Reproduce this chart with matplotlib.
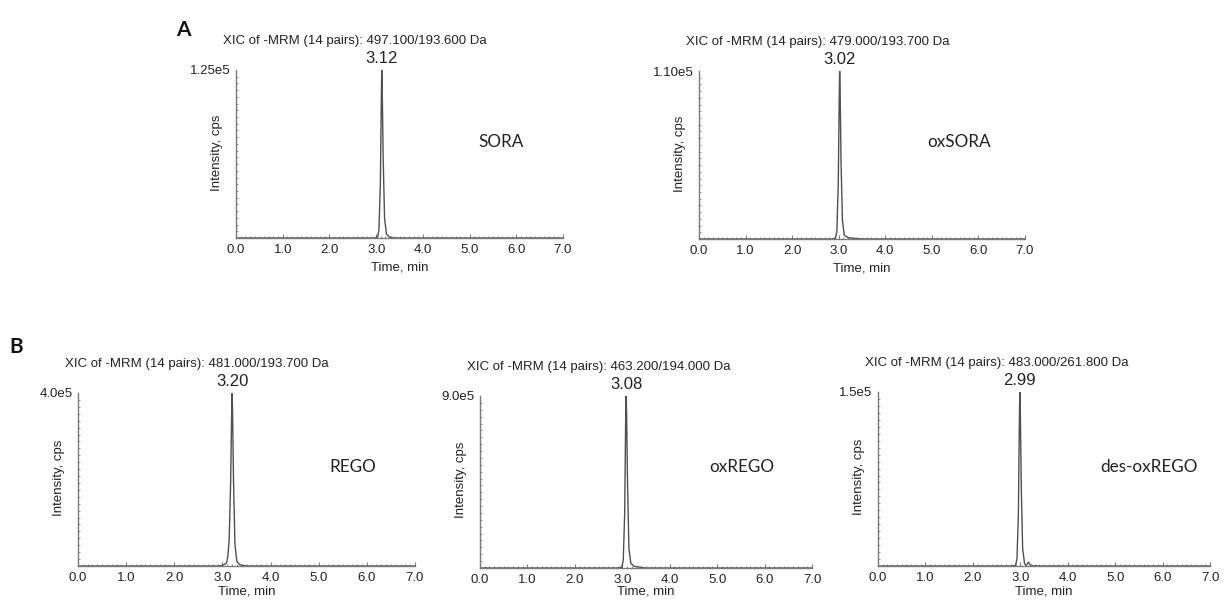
import matplotlib
matplotlib.use("Agg")
import matplotlib.pyplot as plt
from matplotlib.ticker import MultipleLocator, FixedLocator

plt.rcParams["font.family"] = ["Liberation Sans", "DejaVu Sans"]

# ---- chromatogram data (time in min, intensity in cps) ----
sora_t = [0.0, 2.95, 3.03, 3.06, 3.09, 3.11, 3.12, 3.13, 3.15, 3.18, 3.22, 3.28, 3.40, 7.0]
sora_i = [0, 0, 500, 6000, 40000, 100000, 125000, 112000, 60000, 15000, 3000, 800, 0, 0]

oxsora_t = [0.0, 2.85, 2.93, 2.96, 2.99, 3.01, 3.02, 3.03, 3.05, 3.08, 3.12, 3.20, 3.35, 3.50, 7.0]
oxsora_i = [0, 0, 400, 5000, 35000, 90000, 110000, 98000, 50000, 12000, 2500, 900, 400, 0, 0]

rego_t = [0.0, 2.90, 3.00, 3.08, 3.11, 3.14, 3.17, 3.19, 3.20, 3.21, 3.23, 3.26, 3.30, 3.36, 3.50, 7.0]
rego_i = [0, 0, 1500, 6000, 20000, 60000, 190000, 340000, 400000, 360000, 200000, 50000, 10000, 3000, 0, 0]

oxrego_t = [0.0, 2.90, 2.99, 3.02, 3.05, 3.07, 3.08, 3.09, 3.11, 3.14, 3.18, 3.25, 3.40, 3.50, 7.0]
oxrego_i = [0, 0, 4000, 40000, 280000, 750000, 900000, 820000, 450000, 100000, 25000, 9000, 3000, 0, 0]

desox_t = [0.0, 2.82, 2.90, 2.93, 2.96, 2.98, 2.99, 3.00, 3.02, 3.05, 3.09, 3.13, 3.17, 3.20, 3.24, 3.35, 7.0]
desox_i = [0, 0, 500, 6000, 45000, 125000, 150000, 135000, 70000, 15000, 2000, 500, 3500, 1500, 300, 0, 0]

titles = [
    "XIC of -MRM (14 pairs): 497.100/193.600 Da",
    "XIC of -MRM (14 pairs): 479.000/193.700 Da",
    "XIC of -MRM (14 pairs): 481.000/193.700 Da",
    "XIC of -MRM (14 pairs): 463.200/194.000 Da",
    "XIC of -MRM (14 pairs): 483.000/261.800 Da",
]
compounds = ["SORA", "oxSORA", "REGO", "oxREGO", "des-oxREGO"]
peak_times = [3.12, 3.02, 3.20, 3.08, 2.99]
y_max = [1.25e5, 1.10e5, 4.0e5, 9.0e5, 1.5e5]
y_max_labels = ["1.25e5", "1.10e5", "4.0e5", "9.0e5", "1.5e5"]
x_tick_labels = ["0.0", "1.0", "2.0", "3.0", "4.0", "5.0", "6.0", "7.0"]

traces = [(sora_t, sora_i), (oxsora_t, oxsora_i), (rego_t, rego_i),
          (oxrego_t, oxrego_i), (desox_t, desox_i)]

# ---- layout in pixels: (left, top, right, bottom) of each plot area ----
W, H = 1224, 603
boxes = [
    (236, 70, 563, 238),
    (699, 71, 1025, 239),
    (78, 393, 415, 566),
    (480, 396, 812, 568),
    (878, 392, 1210, 566),
]
xlabel_gap = [29, 29, 26, 24, 26]
name_pos = [(0.74, 0.57), (0.70, 0.58), (0.745, 0.57), (0.69, 0.59), (0.67, 0.57)]

fig = plt.figure(figsize=(W / 100, H / 100), dpi=100)
fig.patch.set_facecolor("white")

axis_grey = "#7a7a7a"
text_col = "#222222"
fs = 9.5

for k in range(5):
    l, t, r, b = boxes[k]
    ax = fig.add_axes([l / W, 1 - b / H, (r - l) / W, (b - t) / H])
    tt, ii = traces[k]
    ax.plot(tt, ii, color="#505050", lw=1.0, solid_joinstyle="miter")

    ax.set_xlim(0, 7.0)
    ax.set_ylim(0, y_max[k])
    for s in ("top", "right"):
        ax.spines[s].set_visible(False)
    for s in ("left", "bottom"):
        ax.spines[s].set_color(axis_grey)
        ax.spines[s].set_linewidth(1.0)

    ax.xaxis.set_major_locator(FixedLocator(range(8)))
    ax.set_xticklabels(x_tick_labels)
    ax.xaxis.set_minor_locator(MultipleLocator(0.1))
    ax.yaxis.set_major_locator(FixedLocator([y_max[k]]))
    ax.set_yticklabels([y_max_labels[k]])
    ax.yaxis.set_minor_locator(MultipleLocator(y_max[k] / 25))
    ax.tick_params(axis="x", which="major", direction="in", length=3, width=0.8,
                   color=axis_grey, labelsize=fs, labelcolor=text_col, pad=4)
    ax.tick_params(axis="x", which="minor", direction="in", length=1.5, width=0.6,
                   color=axis_grey)
    ax.tick_params(axis="y", which="major", direction="in", length=0, width=0.8,
                   color=axis_grey, labelsize=fs, labelcolor=text_col, pad=4)
    ax.tick_params(axis="y", which="minor", direction="in", length=1.5, width=0.6,
                   color=axis_grey)

    ax.set_xlabel("Time, min", fontsize=fs, color=text_col, va="center")
    ax.xaxis.set_label_coords(0.5, -(xlabel_gap[k] / (b - t)), transform=ax.transAxes)
    ax.set_ylabel("Intensity, cps", fontsize=fs, color=text_col)
    ax.yaxis.set_label_coords(-13 / (r - l), 0.51, transform=ax.transAxes)

    # title line above the plot area
    fig.text((l - 13) / W, 1 - (t - 29) / H, titles[k], fontsize=fs,
             color=text_col, ha="left", va="center")

    # retention time label at the apex
    ax.annotate(f"{peak_times[k]:.2f}", xy=(peak_times[k], y_max[k]),
                xytext=(0, 3), textcoords="offset points", ha="center",
                va="bottom", fontsize=12, color=text_col, annotation_clip=False)

    nx, ny = name_pos[k]
    ax.text(nx, ny, compounds[k], transform=ax.transAxes, fontsize=12.3,
            family=["Lato", "DejaVu Sans"], color=text_col, ha="left", va="center")

fig.text(183 / W, 1 - 30 / H, "A", fontsize=15, fontweight="bold",
         family=["Lato", "DejaVu Sans"], ha="center", va="center", color="#111111")
fig.text(16 / W, 1 - 347 / H, "B", fontsize=15, fontweight="bold",
         family=["Lato", "DejaVu Sans"], ha="center", va="center", color="#111111")

fig.savefig("out.png", dpi=100, facecolor="white")
